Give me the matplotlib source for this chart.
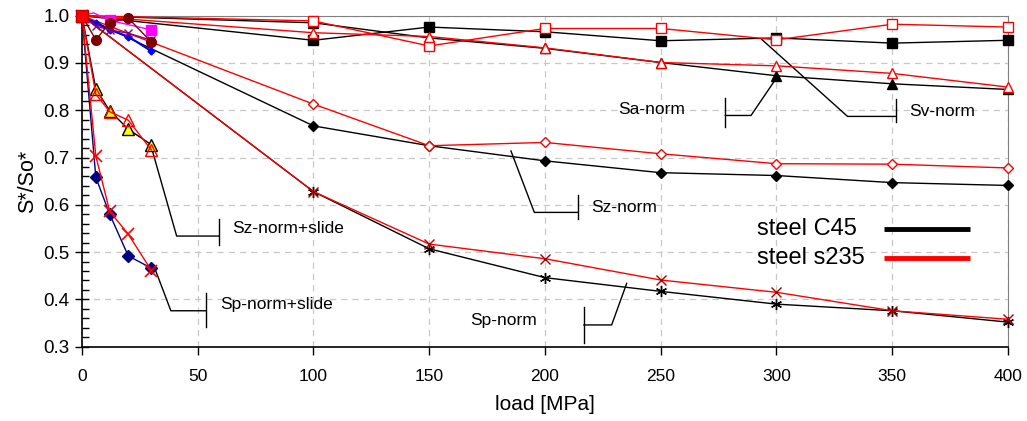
import matplotlib
matplotlib.use("Agg")
from matplotlib import pyplot as plt
from matplotlib.ticker import MultipleLocator, FormatStrFormatter

plt.rcParams['font.family'] = ['Liberation Sans', 'DejaVu Sans']

# load steps [MPa]
load = [0, 100, 150, 200, 250, 300, 350, 400]
load_slide = [0, 6, 12, 20, 30]

# steel C45 (black)
sv_c45 = [1.0, 0.948, 0.976, 0.966, 0.947, 0.953, 0.942, 0.948]
sa_c45 = [1.0, 0.985, 0.953, 0.931, 0.901, 0.873, 0.856, 0.844]
sz_c45 = [1.0, 0.767, 0.725, 0.693, 0.668, 0.662, 0.647, 0.641]
sp_c45 = [1.0, 0.628, 0.507, 0.446, 0.417, 0.390, 0.376, 0.352]

# steel s235 (red)
sv_s235 = [1.0, 0.989, 0.936, 0.973, 0.973, 0.949, 0.982, 0.976]
sa_s235 = [1.0, 0.964, 0.956, 0.932, 0.901, 0.894, 0.878, 0.849]
sz_s235 = [1.0, 0.813, 0.725, 0.732, 0.708, 0.687, 0.686, 0.678]
sp_s235 = [1.0, 0.628, 0.517, 0.486, 0.441, 0.415, 0.376, 0.358]

# slide series (small loads)
sz_slide_c45 = [1.0, 0.845, 0.799, 0.760, 0.727]
sz_slide_s235 = [1.0, 0.834, 0.797, 0.779, 0.716]
sp_slide_c45 = [1.0, 0.658, 0.580, 0.492, 0.466]
sp_slide_s235 = [1.0, 0.703, 0.586, 0.538, 0.461]
top_maroon = [1.0, 0.949, 0.985, 0.995, 0.944]
top_blue = [1.0, 0.984, 0.970, 0.956, 0.925]
top_purple = [1.0, 0.978, 0.970, 0.963, 0.948]
load_magenta = [0, 5, 12, 30]
top_magenta = [1.0, 1.006, 0.990, 0.970]

# callout leader lines (data coords)
sz_slide_x = [29.8, 40.9, 59.3]
sz_slide_y = [0.725, 0.534, 0.534]
sp_slide_x = [30.9, 38.4, 53.6]
sp_slide_y = [0.473, 0.376, 0.376]
sz_x = [185.3, 195.4, 214.1]
sz_y = [0.714, 0.584, 0.584]
sp_x = [235.3, 228.8, 216.8]
sp_y = [0.434, 0.346, 0.346]
sa_x = [300.5, 289.0, 277.9]
sa_y = [0.872, 0.789, 0.789]
sv_x = [293.6, 330.7, 351.6]
sv_y = [0.950, 0.787, 0.787]

fig = plt.figure(figsize=(10.27, 4.21), dpi=100)
ax = fig.add_axes([0.0798, 0.1765, 0.9017, 0.7862])

lw = 1.0
# C45
ax.plot(load, sv_c45, color='k', lw=lw, marker='s', ms=6.5, mfc='k', mec='k', clip_on=False, zorder=3)
ax.plot(load, sa_c45, color='k', lw=lw, marker='^', ms=7, mfc='k', mec='k', clip_on=False, zorder=3)
ax.plot(load, sz_c45, color='k', lw=lw, marker='D', ms=5.5, mfc='k', mec='k', clip_on=False, zorder=3)
ax.plot(load, sp_c45, color='k', lw=lw, marker=(6, 2, 0), ms=8, mec='k', mew=1.0, clip_on=False, zorder=3)
# s235
ax.plot(load, sv_s235, color='r', lw=lw, marker='s', ms=6.5, mfc='white', mec='r', clip_on=False, zorder=4)
ax.plot(load, sa_s235, color='r', lw=lw, marker='^', ms=7, mfc='white', mec='r', clip_on=False, zorder=4)
ax.plot(load, sz_s235, color='r', lw=lw, marker='D', ms=5.5, mfc='white', mec='r', clip_on=False, zorder=4)
ax.plot(load, sp_s235, color='r', lw=lw, marker='x', ms=7, mec='#b00000', mew=1.0, clip_on=False, zorder=4)

# slide series
ax.plot(load_slide, top_blue, color='#0000ff', lw=1.5, marker='D', ms=3.5, mfc='#0000ff', mec='#0000ff', clip_on=False, zorder=5)
ax.plot(load_slide, top_purple, color='#800080', lw=lw, marker='x', ms=6, mec='#800080', clip_on=False, zorder=5)
ax.plot(load_magenta, top_magenta, color='#ff00ff', lw=lw, marker='s', ms=7, mfc='#ff00ff', mec='#ff00ff', markevery=[2, 3], clip_on=False, zorder=5)
ax.plot(load_slide, top_maroon, color='#800000', lw=lw, marker='o', ms=7, mfc='#800000', mec='#800000', clip_on=False, zorder=5)
ax.plot(load_slide, sz_slide_c45, color='k', lw=lw, marker='^', ms=8, mfc='#ffff00', mec='k', clip_on=False, zorder=5)
ax.plot(load_slide, sz_slide_s235, color='r', lw=lw, marker='^', ms=8, mfc='none', mec='r', clip_on=False, zorder=5)
ax.plot(load_slide, sp_slide_c45, color='#000080', lw=lw, marker='D', ms=6, mfc='#000080', mec='#000080', clip_on=False, zorder=5)
ax.plot(load_slide, sp_slide_s235, color='r', lw=lw, marker='x', ms=8, mec='r', mew=1.2, clip_on=False, zorder=5)
ax.plot(load_slide[:1], sv_s235[:1], ls='none', marker='s', ms=9, mfc='r', mec='#c00000', clip_on=False, zorder=6)

# callouts
def callout(xs, ys, label, tx, ty, bar):
    ax.plot(xs, ys, color='k', lw=1.0, zorder=2)
    ax.plot([xs[-1], xs[-1]], bar, color='k', lw=1.0, zorder=2)
    ax.text(tx, ty, label, fontsize=12.5, va='center', ha='left')

callout(sz_slide_x, sz_slide_y, 'Sz-norm+slide', 65.0, 0.549, [0.570, 0.515])
callout(sp_slide_x, sp_slide_y, 'Sp-norm+slide', 59.5, 0.389, [0.413, 0.342])
callout(sz_x, sz_y, 'Sz-norm', 220.0, 0.595, [0.621, 0.570])
callout(sp_x, sp_y, 'Sp-norm', 167.5, 0.355, [0.384, 0.307])
callout(sa_x, sa_y, 'Sa-norm', 231.5, 0.802, [0.827, 0.765])
callout(sv_x, sv_y, 'Sv-norm', 357.5, 0.798, [0.823, 0.775])

# axes styling
ax.set_xlim(0, 400)
ax.set_ylim(0.3, 1.0)
ax.xaxis.set_major_locator(MultipleLocator(50))
ax.yaxis.set_major_locator(MultipleLocator(0.1))
ax.yaxis.set_minor_locator(MultipleLocator(0.02))
ax.yaxis.set_major_formatter(FormatStrFormatter('%.1f'))
ax.grid(True, which='major', color='#c8c8c8', ls=(0, (5, 4)), lw=0.9)
ax.tick_params(axis='y', which='major', direction='inout', length=10, width=1, labelsize=13.5, pad=4)
ax.tick_params(axis='y', which='minor', direction='in', length=5, width=1)
ax.tick_params(axis='x', which='major', direction='out', length=6, width=1, labelsize=12.5, pad=10)
ax.spines['top'].set_color('#808080')
ax.spines['right'].set_color('#808080')
ax.spines['left'].set_linewidth(1.2)
ax.spines['bottom'].set_linewidth(1.2)
ax.set_xlabel('load [MPa]', fontsize=15, labelpad=8)
ax.set_ylabel('S*/So*', fontsize=15.5, labelpad=4)

# legend: text on the left, thick line on the right
legend_labels = ['steel C45', 'steel s235']
legend_colors = ['k', 'r']
legend_rows = [0.356, 0.268]
for lab, col, ry in zip(legend_labels, legend_colors, legend_rows):
    ax.text(0.729, ry, lab, transform=ax.transAxes, fontsize=17, va='center', ha='left')
    ax.plot([0.866, 0.959], [ry, ry], transform=ax.transAxes, color=col, lw=3.5, solid_capstyle='butt')

fig.savefig('out.png', dpi=100)
